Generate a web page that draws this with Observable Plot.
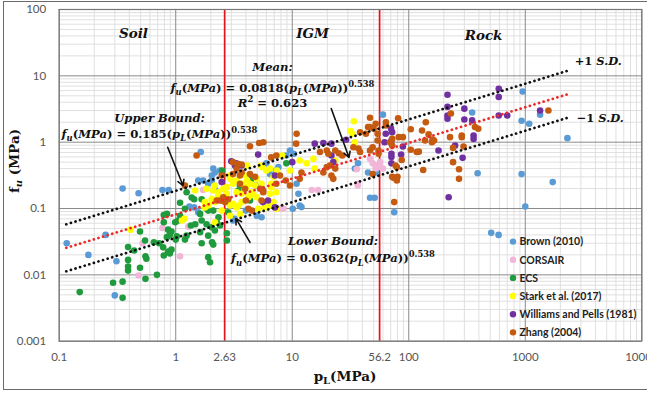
<!DOCTYPE html>
<html><head><meta charset="utf-8">
<script src="https://cdn.jsdelivr.net/npm/d3@7"></script>
<script src="https://cdn.jsdelivr.net/npm/@observablehq/plot@0.6"></script>
<style>
html,body{margin:0;padding:0;background:#fff;overflow:hidden;}
#wrap{position:relative;width:647px;height:394px;overflow:hidden;}
#frame{position:absolute;left:3px;top:1px;width:700px;height:389px;border:1.6px solid #6a6a6a;box-sizing:border-box;pointer-events:none;}
</style></head><body><div id="wrap"><div id="chart"></div><div id="frame"></div></div>
<script>
// ---------- data ----------
const seriesNames = ["Brown (2010)", "CORSAIR", "ECS", "Stark et al. (2017)", "Williams and Pells (1981)", "Zhang (2004)"];
const seriesColors = ["#5b9bd5", "#f2b6d8", "#1f9a3c", "#ffff00", "#7030a0", "#c55a11"];

const brownX = [0.116,0.178,0.25,0.31,0.30,0.35,0.48,0.77,0.87,1.31,1.56,1.64,3.2,1.56,1.72,2.04,1.44,3.1,4.0,4.9,6.0,6.45,9.57,8.9,10.3,10.9,11.3,10.1,11.6,12.0,36.7,34.5,44.7,52.3,46.5,51,60,75,350,390,950,930,1080,1340,2300,930,1720,1000,510,590,2.1,2.17,2.4,2.04,1.9,7.3,7.6,2.17,4.96,5.45];
const brownY = [0.030,0.020,0.040,0.016,0.0049,0.20,0.17,0.19,0.19,0.107,0.088,0.71,0.070,0.264,0.264,0.315,0.104,0.066,0.093,0.222,0.48,0.33,0.75,0.63,0.67,0.236,0.167,0.099,0.111,0.105,0.48,0.40,0.35,0.35,0.145,0.145,2.6,0.088,2.8,0.34,5.8,2.1,1.9,2.6,1.15,0.33,0.25,0.107,0.043,0.040,0.40,0.35,0.374,0.264,0.236,0.374,0.42,0.199,0.078,0.074];

const corsairX = [0.77,1.09,0.48,1.28,0.52,1.72,7.9,8.4,14.7,16.7,36.5,36.5,35.8,46.5,52,52,56.7,49,60,56.7];
const corsairY = [0.051,0.019,0.0098,0.053,0.030,0.19,0.10,0.10,0.19,0.19,0.236,0.222,0.39,0.56,0.40,0.446,0.42,0.48,0.40,0.50];

const ecsX = [1.09,0.84,0.79,0.99,1.05,0.86,0.92,0.89,0.494,0.84,1.02,1.2,1.24,0.546,0.65,0.72,0.39,0.44,0.78,0.86,0.92,0.55,0.56,0.79,0.89,0.39,0.39,0.39,0.494,0.69,0.55,0.29,0.35,0.15,0.35,1.44,1.67,2.05,2.1,1.9,1.97,2.75,2.75,2.4,2.33,2.82,1.35,0.79,1.0,3.56,1.37,1.67,1.9,2.25,2.04,1.84,1.67,1.47,1.62,1.9,2.17,8.9,2.5,4.5,3.45,4.34,2.1,1.84,1.62,1.2,1.09,1.24];
const ecsY = [0.122,0.083,0.062,0.062,0.066,0.048,0.045,0.040,0.045,0.037,0.038,0.034,0.039,0.033,0.031,0.030,0.0262,0.0233,0.026,0.0225,0.024,0.019,0.0175,0.0196,0.021,0.0168,0.0134,0.0116,0.0128,0.0100,0.0087,0.0076,0.0079,0.0055,0.0045,0.138,0.030,0.031,0.0286,0.0185,0.0155,0.0424,0.033,0.0554,0.074,0.088,0.0554,0.080,0.034,0.222,0.146,0.138,0.093,0.062,0.052,0.058,0.066,0.058,0.044,0.039,0.0466,0.48,0.374,0.28,0.187,0.132,0.093,0.099,0.083,0.099,0.078,0.176];

const starkX = [0.41,1.13,1.19,1.78,2.17,3.56,2.17,2.33,2.56,2.74,1.84,3.33,3.68,4.03,4.63,4.96,4.34,2.04,2.17,1.78,1.9,2.92,3.33,3.68,5.1,6.45,6.9,5.45,6.6,7.4,6.9,15.2,13.3,15.6,33.8,32.7,31.6,34.5,8.2,9.57,5.4,4.1,2.92,11.6,23.4,1.47,5.5,6.0,6.45,3.94,4.1,4.34,4.8,4.96,2.92,3.1,2.74,3.33,3.68,4.2,4.5,6.6,7.3,2.1,2.32,2.04,2.74,3.1,3.45,5.85,6.45,7.3,2.48,2.92];
const starkY = [0.048,0.066,0.070,0.104,0.062,0.083,0.222,0.176,0.199,0.167,0.199,0.264,0.236,0.21,0.167,0.148,0.157,0.14,0.125,0.125,0.111,0.111,0.104,0.125,0.099,0.167,0.125,0.236,0.236,0.374,0.30,0.56,0.48,0.40,2.07,1.34,1.47,1.0,0.63,0.374,0.446,0.446,0.315,0.53,0.53,0.187,0.42,0.374,0.40,0.315,0.264,0.236,0.222,0.28,0.28,0.236,0.21,0.176,0.167,0.148,0.176,0.21,0.176,0.187,0.157,0.132,0.132,0.118,0.111,0.104,0.111,0.099,0.093,0.078];

const williamsX = [2.48,3.0,3.3,3.68,3.23,5.1,5.6,10.0,7.1,15.6,18.5,21.7,29,21.7,22.5,215,215,215,215,300,300,350,360,360,70.5,72,63.5,71,71,71,71,62,89,86,180,250,290,220,592,592,592,700,1340,7.1,6.2];
const williamsY = [0.25,0.517,0.48,0.446,0.446,0.65,0.125,0.50,0.104,0.95,0.97,0.95,1.09,0.63,0.50,5.2,3.4,2.53,2.25,3.2,2.2,2.13,1.26,1.12,1.6,1.41,1.34,1.06,0.67,0.6,0.48,1.0,0.86,0.65,0.75,0.89,0.58,0.148,6.4,4.8,2.53,2.53,3.0,0.315,0.132];

const zhangX = [1.2,1.51,4.34,5.2,5.65,6.6,3.1,3.45,3.68,3.33,3.68,3.1,4.34,4.8,2.56,2.82,2.4,2.65,4.0,5.45,5.63,10.9,10.8,46.5,44.7,50,54,38.2,42.9,17.3,19.8,20.4,23.4,25.1,26.9,33.5,37,38.2,21.1,23.4,21.7,22.5,19.8,18.5,46.5,7.85,8.8,9.57,12.0,11.6,63.7,63.7,81,46.5,52,104,140,130,148,160,165,158,138,82,89,72,69,72,104,117,122,226,240,295,285,285,230,370,395,240,270,270,133,87,77,72,74,49,54,49,55,75,1580,79,80,79,55,3.56,2.48,3.56,3.94,5.3,5.63,7.3,2.25,2.48,4.2,4.5,7.3];
const zhangY = [0.222,0.63,0.87,0.97,1.0,0.59,0.50,0.47,0.46,0.40,0.35,0.33,0.33,0.30,0.148,0.138,0.132,0.125,0.132,0.132,0.187,1.34,0.95,2.33,1.69,1.59,1.34,1.41,1.34,0.71,0.75,0.67,0.75,0.68,0.63,0.84,0.80,0.71,0.446,0.40,0.315,0.28,0.42,0.35,0.75,0.315,0.264,0.222,0.35,0.28,2.0,1.79,2.3,1.69,1.9,1.57,2.0,1.5,1.31,1.1,1.06,1.0,1.06,1.19,1.19,1.12,1.0,0.89,0.77,0.71,0.72,1.19,0.82,0.86,1.26,1.19,2.7,1.69,1.59,0.50,0.39,0.28,0.38,0.54,0.446,0.30,0.29,0.33,1.06,0.84,0.75,0.125,3.0,0.42,0.30,0.264,0.67,0.315,0.315,0.236,0.199,0.199,0.176,0.236,0.132,0.132,0.099,0.093,0.63];

// fitted power laws f_u = a * p_L^b (from chart text)
const fitNames = ["Mean", "Upper Bound", "Lower Bound"];
const fitCoefs = [0.0818, 0.185, 0.0362];
const fitExponent = 0.538;
const fitRange = [0.115, 2400];

// region boundaries
const boundaries = [2.63, 56.2];

// ticks
const xTicks = [0.1, 1, 2.63, 10, 56.2, 100, 1000, 10000];
const xTickLabels = ["0.1", "1", "2.63", "10", "56.2", "100", "1000", "10000"];
const yTicks = [0.001, 0.01, 0.1, 1, 10, 100];
const yTickLabels = ["0.001", "0.01", "0.1", "1", "10", "100"];
const xDecades = [0.1, 1, 10, 100, 1000, 10000];
const yDecades = [0.001, 0.01, 0.1, 1, 10, 100];

// ---------- build ----------
const allX = [brownX, corsairX, ecsX, starkX, williamsX, zhangX];
const allY = [brownY, corsairY, ecsY, starkY, williamsY, zhangY];
const points = [];
seriesNames.forEach((s, k) => allX[k].forEach((x, i) => points.push({series: s, x, y: allY[k][i]})));

const fitLines = fitNames.map((n, k) => fitRange.map(x => ({name: n, x, y: fitCoefs[k] * Math.pow(x, fitExponent)})));

const minor = (decs) => decs.slice(0, -1).flatMap(d => [2,3,4,5,6,7,8,9].map(m => d * m));
const xMinor = minor(xDecades), yMinor = minor(yDecades);

const arrows = [
  {x1: 0.853, y1: 0.84, x2: 1.155, y2: 0.222},
  {x1: 21.6, y1: 3.22, x2: 30.7, y2: 0.588},
  {x1: 4.34, y1: 0.0308, x2: 3.29, y2: 0.0705}
];

const dotted = {strokeDasharray: "0.1 4.7", strokeLinecap: "round", strokeWidth: 2.7};
const SANS = "Lato, 'Liberation Sans', sans-serif";

const plot = Plot.plot({
  width: 647, height: 394,
  marginLeft: 58.7, marginRight: 5.7, marginTop: 9, marginBottom: 53.3,
  style: {fontFamily: SANS, background: "transparent"},
  x: {type: "log", domain: [0.1, 10000], label: null, axis: null},
  y: {type: "log", domain: [0.001, 100], label: null, axis: null},
  color: {domain: seriesNames, range: seriesColors},
  marks: [
    Plot.ruleX(xMinor, {stroke: "#dcdcdc", strokeWidth: 0.9}),
    Plot.ruleY(yMinor, {stroke: "#dcdcdc", strokeWidth: 0.9}),
    Plot.ruleX(xDecades, {stroke: "#8a8a8a", strokeWidth: 1}),
    Plot.ruleY(yDecades, {stroke: "#8a8a8a", strokeWidth: 1}),
    Plot.ruleX(boundaries, {stroke: "#e2131b", strokeWidth: 1.7}),
    Plot.dot(points, {x: "x", y: "y", fill: "series", r: 3.3, stroke: null}),
    Plot.line(fitLines[1], {x: "x", y: "y", stroke: "#111", ...dotted}),
    Plot.line(fitLines[2], {x: "x", y: "y", stroke: "#111", ...dotted}),
    Plot.line(fitLines[0], {x: "x", y: "y", stroke: "#ec2a2a", ...dotted}),
    Plot.arrow(arrows, {x1: "x1", y1: "y1", x2: "x2", y2: "y2", stroke: "#111", strokeWidth: 1.6, headLength: 6, bend: 0}),
    Plot.frame({stroke: "#777", strokeWidth: 1.2}),
    Plot.text(xTicks, {x: d => d, text: (d, i) => xTickLabels[i], frameAnchor: "bottom", dy: 16, fontSize: 11.5, fill: "#555", lineAnchor: "middle"}),
    Plot.text(yTicks, {y: d => d, text: (d, i) => yTickLabels[i], frameAnchor: "left", dx: -13, textAnchor: "end", fontSize: 11.5, fill: "#555"})
  ]
});
document.getElementById("chart").appendChild(plot);

// ---------- annotations (positioned through the plot's scales) ----------
const sx = plot.scale("x"), sy = plot.scale("y");
const X = d3.scaleLog().domain(sx.domain).range(sx.range);
const Y = d3.scaleLog().domain(sy.domain).range(sy.range);
const svg = d3.select(plot);
const SERIF = "'DejaVu Serif', 'Liberation Serif', serif";
const g = svg.append("g").attr("font-family", SERIF).attr("font-weight", "bold").attr("fill", "#111");

function rich(px, py, anchor, size, parts) {
  const t = g.append("text").attr("x", px).attr("y", py).attr("text-anchor", anchor).attr("font-size", size);
  let shift = 0;
  for (const [txt, kind] of parts) {
    const s = t.append("tspan").text(txt);
    let target = 0;
    if (kind === "sub") { s.attr("font-size", size * 0.72).attr("font-style", "italic"); target = size * 0.3; }
    else if (kind === "sup") { s.attr("font-size", size * 0.72); target = -size * 0.45; }
    else if (kind === "i") s.attr("font-style", "italic");
    if (target !== shift) { s.attr("dy", target - shift); shift = target; }
  }
  return t;
}
function eq(coef) {
  return [["f","i"],["u","sub"],["(","n"],["MPa","i"],[") = " + coef + "(","n"],["p","i"],["L","sub"],["(","n"],["MPa","i"],["))","n"],["0.538","sup"]];
}
const FS = 11.6;
// region labels
rich(X(0.438), Y(36.6), "middle", 13.5, [["Soil","i"]]);
rich(X(15.1), Y(36.6), "middle", 13.5, [["IGM","i"]]);
rich(X(443), Y(34.2), "middle", 13.5, [["Rock","i"]]);
// mean
rich(X(6.84), Y(11.6), "middle", FS, [["Mean:","i"]]);
rich(X(6.84), Y(5.62), "middle", FS, eq("0.0818"));
rich(X(6.84), Y(3.3), "middle", FS, [["R","i"],["2","sup"],[" = 0.623","n"]]);
// upper
rich(X(0.733), Y(1.98), "middle", FS, [["Upper Bound:","i"]]);
rich(X(0.733), Y(1.137), "middle", FS, eq("0.185"));
// lower
rich(X(22.6), Y(0.0277), "middle", FS, [["Lower Bound:","i"]]);
rich(X(22.6), Y(0.01534), "middle", FS, eq("0.0362"));
// S.D.
rich(X(2680), Y(14.4), "start", 11.5, [["+1 ","n"],["S.D.","i"]]);
rich(X(2790), Y(1.98), "start", 11.5, [["\u22121 ","n"],["S.D.","i"]]);

// axis titles
const yt = svg.append("text").attr("transform", "translate(19,161) rotate(-90)").attr("text-anchor", "middle")
  .attr("font-family", SERIF).attr("font-weight", "bold").attr("font-size", 13.5).attr("fill", "#111");
yt.append("tspan").text("f");
yt.append("tspan").text("u").attr("font-size", 10).attr("font-style", "italic").attr("dy", 3);
yt.append("tspan").text(" (MPa)").attr("dy", -3);
const xt = svg.append("text").attr("x", 345).attr("y", 381).attr("text-anchor", "middle")
  .attr("font-family", SERIF).attr("font-weight", "bold").attr("font-size", 13.5).attr("fill", "#111");
xt.append("tspan").text("p");
xt.append("tspan").text("L").attr("font-size", 10).attr("dy", 3);
xt.append("tspan").text("(MPa)").attr("dy", -3);

// legend
const lg = svg.append("g").attr("font-family", SANS).attr("font-weight", "bold").attr("font-size", 10.5).attr("text-anchor", "start");
seriesNames.forEach((s, i) => {
  const yy = 241.6 + i * 18.15;
  lg.append("circle").attr("cx", 513).attr("cy", yy).attr("r", 3.2).attr("fill", seriesColors[i]);
  lg.append("text").attr("x", 519.5).attr("y", yy + 3.8).attr("fill", "#222").attr("text-anchor", "start").text(s);
});
</script></body></html>
